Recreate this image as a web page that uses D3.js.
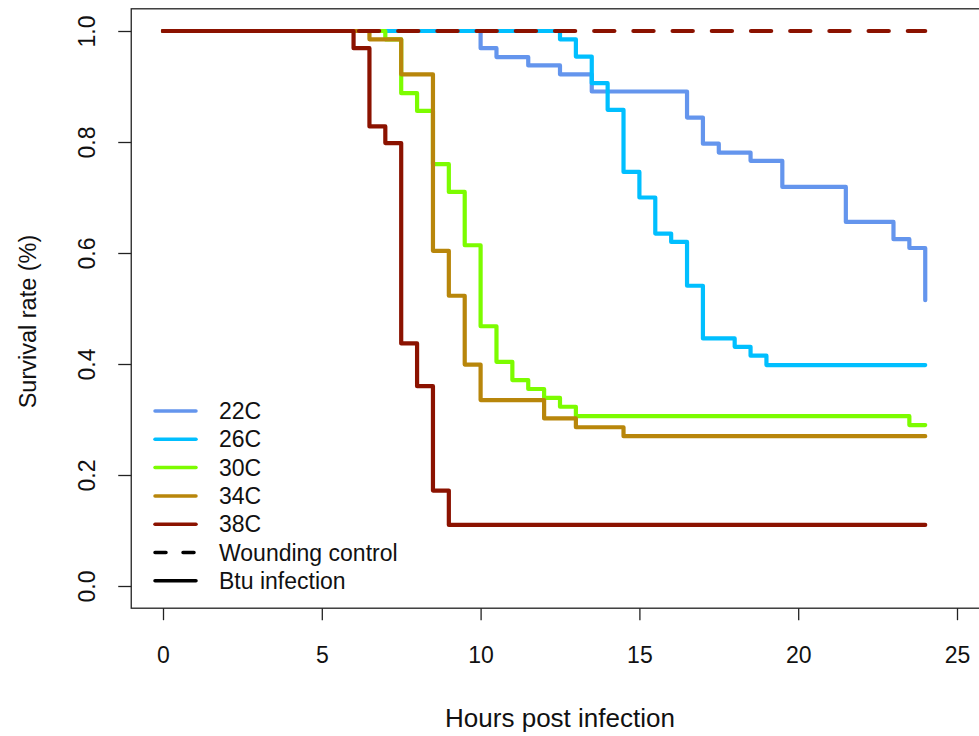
<!DOCTYPE html>
<html>
<head>
<meta charset="utf-8">
<script src="https://cdn.jsdelivr.net/npm/d3@7"></script>
<style>
  html, body { margin: 0; padding: 0; background: #fff; }
  svg { display: block; font-family: "Liberation Sans", Arial, sans-serif; }
</style>
</head>
<body>
<svg id="chart" width="979" height="736"></svg>
<script>
// ---- data ----
const endTime = 24;

const hours22 = [0, 10, 10.5, 11.5, 12.5, 13.5, 16.5, 17, 17.5, 18.5, 19.5, 21.5, 23, 23.5, 24];
const surv22  = [1, 0.969, 0.953, 0.938, 0.922, 0.891, 0.844, 0.797, 0.781, 0.766, 0.719, 0.656, 0.625, 0.609, 0.515];

const hours26 = [0, 12.5, 13, 13.5, 14, 14.5, 15, 15.5, 16, 16.5, 17, 18, 18.5, 19];
const surv26  = [1, 0.985, 0.954, 0.906, 0.858, 0.746, 0.700, 0.635, 0.620, 0.541, 0.446, 0.431, 0.415, 0.398];

const hours30 = [0, 7, 7.5, 8, 8.5, 9, 9.5, 10, 10.5, 11, 11.5, 12, 12.5, 13, 23.5];
const surv30  = [1, 0.985, 0.888, 0.856, 0.760, 0.710, 0.614, 0.468, 0.404, 0.371, 0.355, 0.339, 0.323, 0.306, 0.290];

const hours34 = [0, 6.5, 7.5, 8.5, 9, 9.5, 10, 12, 13, 14.5];
const surv34  = [1, 0.985, 0.922, 0.604, 0.523, 0.399, 0.335, 0.302, 0.286, 0.270];

const hours38 = [0, 6, 6.5, 7, 7.5, 8, 8.5, 9];
const surv38  = [1, 0.969, 0.828, 0.798, 0.437, 0.360, 0.172, 0.110];

const hoursControl = [0, 24];
const survControl  = [1, 1];

const seriesNames  = ["22C", "26C", "30C", "34C", "38C"];
const seriesColors = ["#6495ED", "#00BFFF", "#7CFC00", "#B8860B", "#8B1200"];
const seriesHours  = [hours22, hours26, hours30, hours34, hours38];
const seriesSurv   = [surv22, surv26, surv30, surv34, surv38];

const legendLabels = ["22C", "26C", "30C", "34C", "38C", "Wounding control", "Btu infection"];

const xTicks = [0, 5, 10, 15, 20, 25];
const yTicks = [0.0, 0.2, 0.4, 0.6, 0.8, 1.0];
const xTitle = "Hours post infection";
const yTitle = "Survival rate (%)";

// ---- layout ----
const svg = d3.select("#chart");
const x = d3.scaleLinear().domain([0, 25]).range([163, 957]);
const y = d3.scaleLinear().domain([0, 1]).range([586, 31]);
const boxL = x(-1), boxR = x(26), boxT = y(1.04), boxB = y(-0.04);
const fontSize = 23;

// box
svg.append("rect")
  .attr("x", boxL).attr("y", boxT)
  .attr("width", boxR - boxL).attr("height", boxB - boxT)
  .attr("fill", "none").attr("stroke", "#222").attr("stroke-width", 1.3);

// x axis
const gx = svg.append("g")
  .attr("transform", `translate(0,${boxB})`)
  .call(d3.axisBottom(x).tickValues(xTicks).tickSize(12).tickPadding(26).tickFormat(d3.format("d")));
gx.select(".domain").remove();
gx.selectAll(".tick line").attr("stroke", "#222").attr("stroke-width", 1.3);
gx.selectAll(".tick text").attr("font-size", fontSize).attr("fill", "#111")
  .attr("font-family", "Liberation Sans, Arial, sans-serif");

// y axis
const gy = svg.append("g")
  .attr("transform", `translate(${boxL},0)`)
  .call(d3.axisLeft(y).tickValues(yTicks).tickSize(13).tickFormat(d3.format(".1f")));
gy.select(".domain").remove();
gy.selectAll(".tick line").attr("stroke", "#222").attr("stroke-width", 1.3);
gy.selectAll(".tick text")
  .attr("font-size", fontSize).attr("fill", "#111")
  .attr("font-family", "Liberation Sans, Arial, sans-serif")
  .attr("x", null).attr("dy", null)
  .attr("text-anchor", "middle")
  .attr("transform", "translate(-36,0) rotate(-90)")
  .attr("y", 0);

// axis titles
svg.append("text")
  .attr("x", (boxL + boxR) / 2).attr("y", 727)
  .attr("text-anchor", "middle").attr("font-size", 26).attr("fill", "#111")
  .text(xTitle);
svg.append("text")
  .attr("transform", `translate(36,${(boxT + boxB) / 2 + 13}) rotate(-90)`)
  .attr("text-anchor", "middle").attr("font-size", 23.5).attr("fill", "#111")
  .text(yTitle);

// curves
const line = d3.line()
  .x(d => x(d[0])).y(d => y(d[1]))
  .curve(d3.curveStepAfter);

seriesNames.forEach((name, i) => {
  const pts = seriesHours[i].map((h, j) => [h, seriesSurv[i][j]]);
  pts.push([endTime, seriesSurv[i][seriesSurv[i].length - 1]]);
  svg.append("path")
    .attr("d", line(pts))
    .attr("fill", "none")
    .attr("stroke", seriesColors[i])
    .attr("stroke-width", 4.2)
    .attr("stroke-linejoin", "round")
    .attr("stroke-linecap", "round");
});

// wounding control (dashed)
svg.append("path")
  .attr("d", line(hoursControl.map((h, j) => [h, survControl[j]])))
  .attr("fill", "none")
  .attr("stroke", seriesColors[4])
  .attr("stroke-width", 4.2)
  .attr("stroke-linecap", "round")
  .attr("stroke-dasharray", "20.2 19");

// legend
const lg = svg.append("g");
const legX1 = 155, legX2 = 196, legTextX = 219, legY0 = 411, legDY = 28.3;
legendLabels.forEach((lab, i) => {
  const yy = legY0 + i * legDY;
  const col = i < 5 ? seriesColors[i] : "#000";
  const ln = lg.append("line")
    .attr("x1", legX1).attr("x2", legX2).attr("y1", yy).attr("y2", yy)
    .attr("stroke", col).attr("stroke-width", 3.5).attr("stroke-linecap", "round");
  if (i === 5) ln.attr("stroke-dasharray", "11 17");
  lg.append("text")
    .attr("x", legTextX).attr("y", yy).attr("dy", "0.35em")
    .attr("font-size", fontSize).attr("fill", "#111")
    .text(lab);
});
</script>
</body>
</html>
